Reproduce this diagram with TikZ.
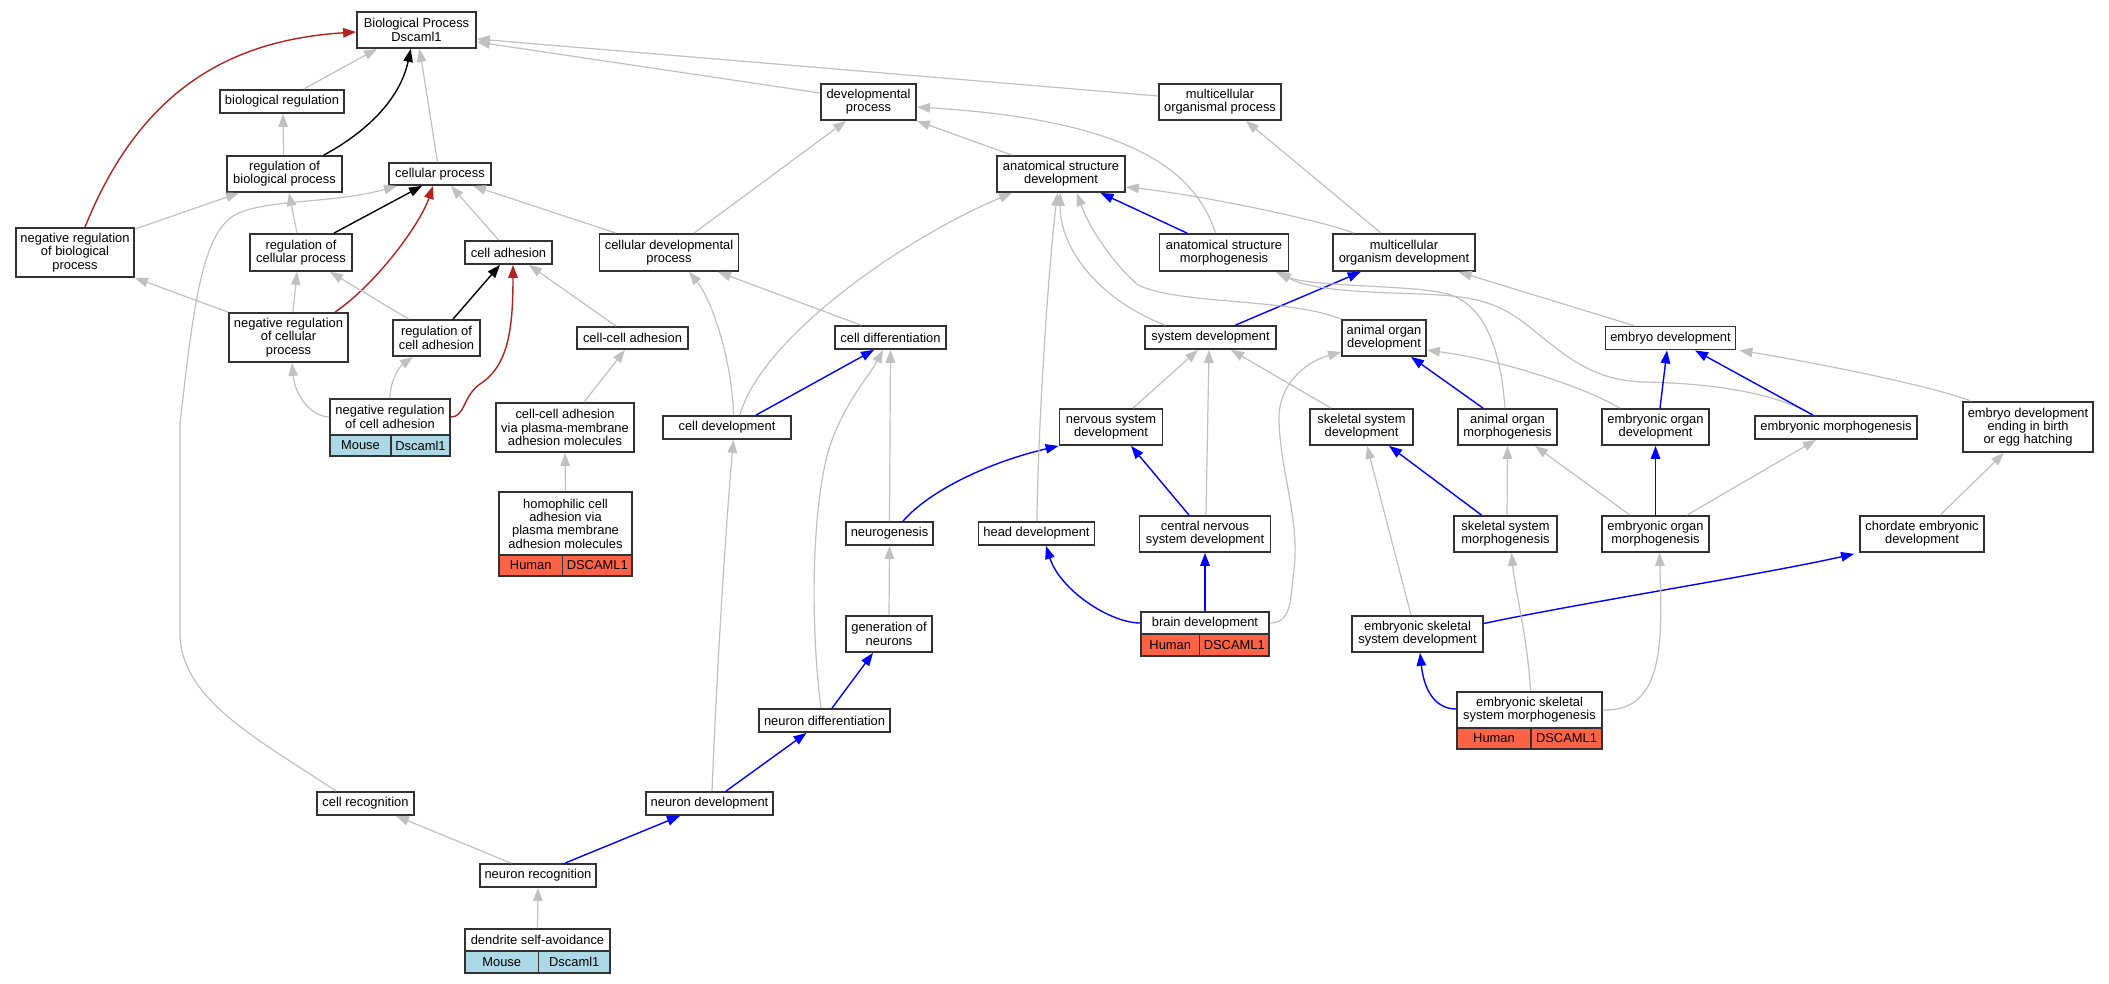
\documentclass[tikz,border=0pt]{standalone}
\usepackage{fontspec}
\setmainfont{Liberation Sans}
\usetikzlibrary{arrows.meta,calc}
\definecolor{eg}{RGB}{192,192,192}
\definecolor{eb}{RGB}{0,0,255}
\definecolor{er}{RGB}{178,34,34}
\definecolor{bord}{RGB}{50,50,50}
\definecolor{mouse}{RGB}{173,216,230}
\definecolor{human}{RGB}{255,99,71}
\begin{document}
\begin{tikzpicture}[x=1pt,y=-1pt,
  box/.style={draw=bord,line width=1.8pt,fill=white,inner sep=0pt,align=center,
    font=\fontsize{12.9pt}{13.3pt}\selectfont},
  mousebox/.style={box,fill=mouse},
  humanbox/.style={box,fill=human},
  tip/.style={-{Triangle[length=13pt,width=9.5pt]}},
  ga/.style={tip,draw=eg,line width=1.2pt},
  ba/.style={tip,draw=eb,line width=1.4pt},
  ra/.style={tip,draw=er,line width=1.4pt},
  ka/.style={tip,draw=black,line width=1.4pt}]
\useasboundingbox (0,0) rectangle (2109,984);

% ---------- nodes ----------
\node[box,minimum width=119pt,minimum height=36pt] (bp) at (416.5,30) {Biological Process\\Dscaml1};
\node[box,minimum width=124pt,minimum height=23pt] (breg) at (282,101.5) {biological regulation};
\node[box,minimum width=115pt,minimum height=36pt] (rbp) at (284.5,174) {regulation of\\biological process};
\node[box,minimum width=102pt,minimum height=22pt] (cp) at (440,174) {cellular process};
\node[box,minimum width=118pt,minimum height=49pt] (nrbp) at (75,252.5) {negative regulation\\of biological\\process};
\node[box,minimum width=102pt,minimum height=37pt] (rcp) at (301,252.5) {regulation of\\cellular process};
\node[box,minimum width=87pt,minimum height=23pt] (ca) at (508.5,252.5) {cell adhesion};
\node[box,minimum width=139pt,minimum height=37pt] (cdp) at (669,252.5) {cellular developmental\\process};
\node[box,minimum width=95pt,minimum height=36pt] (dp) at (868.5,102) {developmental\\process};
\node[box,minimum width=122pt,minimum height=36pt] (mop) at (1220,102) {multicellular\\organismal process};
\node[box,minimum width=128pt,minimum height=36pt] (asd) at (1061,174) {anatomical structure\\development};
\node[box,minimum width=129pt,minimum height=37pt] (asm) at (1224,252.5) {anatomical structure\\morphogenesis};
\node[box,minimum width=142pt,minimum height=37pt] (mod) at (1404,252.5) {multicellular\\organism development};
\node[box,minimum width=119pt,minimum height=49pt] (nrcp) at (288.5,337.5) {negative regulation\\of cellular\\process};
\node[box,minimum width=87pt,minimum height=36pt] (rca) at (436.5,338) {regulation of\\cell adhesion};
\node[box,minimum width=111pt,minimum height=22pt] (cca) at (632.5,338) {cell-cell adhesion};
\node[box,minimum width=111pt,minimum height=23pt] (cdiff) at (890.5,337.5) {cell differentiation};
\node[box,minimum width=131pt,minimum height=23pt] (sd) at (1210.5,337.5) {system development};
\node[box,minimum width=84pt,minimum height=36pt] (aod) at (1384,338) {animal organ\\development};
\node[box,minimum width=130pt,minimum height=23pt] (ed) at (1670.5,338) {embryo development};
\node[box,minimum width=120pt,minimum height=36pt] (nrca) at (390,417) {negative regulation\\of cell adhesion};
\node[mousebox,minimum width=61pt,minimum height=21pt] (nrcaA) at (360.5,445.5) {Mouse};
\node[mousebox,minimum width=59pt,minimum height=21pt] (nrcaB) at (420.5,445.5) {Dscaml1};
\node[box,minimum width=138pt,minimum height=49pt] (ccapm) at (565,427.5) {cell-cell adhesion\\via plasma-membrane\\adhesion molecules};
\node[box,minimum width=128pt,minimum height=23pt] (cdev) at (727,427.5) {cell development};
\node[box,minimum width=103pt,minimum height=36pt] (nsd) at (1111,427) {nervous system\\development};
\node[box,minimum width=103pt,minimum height=36pt] (ssd) at (1361.5,427) {skeletal system\\development};
\node[box,minimum width=99pt,minimum height=36pt] (aom) at (1507.5,427) {animal organ\\morphogenesis};
\node[box,minimum width=107pt,minimum height=36pt] (eod) at (1655.5,427) {embryonic organ\\development};
\node[box,minimum width=162pt,minimum height=23pt] (em) at (1836,427.5) {embryonic morphogenesis};
\node[box,minimum width=130pt,minimum height=50pt] (edeb) at (2028,427) {embryo development\\ending in birth\\or egg hatching};
\node[box,minimum width=133pt,minimum height=63pt] (hom) at (565.5,523.5) {homophilic cell\\adhesion via\\plasma membrane\\adhesion molecules};
\node[humanbox,minimum width=63.5pt,minimum height=21pt] (homA) at (530.75,565.5) {Human};
\node[humanbox,minimum width=69.5pt,minimum height=21pt] (homB) at (597.25,565.5) {DSCAML1};
\node[box,minimum width=87pt,minimum height=23pt] (ng) at (889.5,533.5) {neurogenesis};
\node[box,minimum width=116pt,minimum height=23pt] (hd) at (1036.5,533.5) {head development};
\node[box,minimum width=131pt,minimum height=36pt] (cnsd) at (1205,534) {central nervous\\system development};
\node[box,minimum width=103pt,minimum height=36pt] (ssm) at (1505.5,534) {skeletal system\\morphogenesis};
\node[box,minimum width=107pt,minimum height=36pt] (eom) at (1655.5,534) {embryonic organ\\morphogenesis};
\node[box,minimum width=124pt,minimum height=36pt] (ced) at (1922,534) {chordate embryonic\\development};
\node[box,minimum width=86pt,minimum height=36pt] (gn) at (889,634) {generation of\\neurons};
\node[box,minimum width=128pt,minimum height=22pt] (bd) at (1205,623) {brain development};
\node[humanbox,minimum width=58.5pt,minimum height=22pt] (bdA) at (1170.25,645) {Human};
\node[humanbox,minimum width=69.5pt,minimum height=22pt] (bdB) at (1234.25,645) {DSCAML1};
\node[box,minimum width=131pt,minimum height=36pt] (essd) at (1417.5,634) {embryonic skeletal\\system development};
\node[box,minimum width=131pt,minimum height=23pt] (nd) at (824.5,720.5) {neuron differentiation};
\node[box,minimum width=145pt,minimum height=36pt] (essm) at (1529.5,710) {embryonic skeletal\\system morphogenesis};
\node[humanbox,minimum width=74pt,minimum height=21pt] (essmA) at (1494,738.5) {Human};
\node[humanbox,minimum width=71pt,minimum height=21pt] (essmB) at (1566.5,738.5) {DSCAML1};
\node[box,minimum width=97pt,minimum height=23pt] (cr) at (365.5,803.5) {cell recognition};
\node[box,minimum width=127pt,minimum height=23pt] (ndev) at (709.5,803.5) {neuron development};
\node[box,minimum width=116pt,minimum height=23pt] (nr) at (538,875.5) {neuron recognition};
\node[box,minimum width=145pt,minimum height=22pt] (dsa) at (537.5,940) {dendrite self-avoidance};
\node[mousebox,minimum width=73.5pt,minimum height=22pt] (dsaA) at (501.75,962) {Mouse};
\node[mousebox,minimum width=71.5pt,minimum height=22pt] (dsaB) at (574.25,962) {Dscaml1};

% ---------- edges ----------
\draw[ga] ($(breg.north)+(21.6,0)$) -- ($(bp.south)+(-39.5,0)$);
\draw[ga] ($(rbp.north)+(-1,0)$) -- ($(breg.south)+(1,0)$);
\draw[ka] ($(rbp.north)+(39.2,0)$) .. controls (365,133) and (400,100) .. ($(bp.south)+(-5.8,0)$);
\draw[ga] ($(cp.north)+(-2.5,0)$) -- ($(bp.south)+(3.1,0)$);
\draw[ra] ($(nrbp.north)+(10,0)$) .. controls (140,90) and (230,40) .. ($(bp.west)+(0,2)$);
\draw[ga] ($(nrbp.north east)+(0,2)$) -- ($(rbp.south)+(-45.5,0)$);
\draw[ga] ($(rcp.north)+(-4,0)$) -- ($(rbp.south)+(4.5,0)$);
\draw[ka] ($(rcp.north)+(33,0)$) -- ($(cp.south)+(-18,0)$);
\draw[ra] ($(nrcp.north)+(46.5,0)$) .. controls (375,285) and (420,225) .. ($(cp.south)+(-7,0)$);
\draw[ga] ($(ca.north)+(-9.8,0)$) -- ($(cp.south)+(11,0)$);
\draw[ga] ($(cdp.north)+(-53,0)$) -- ($(cp.south)+(33,0)$);
\draw[ga] ($(cr.north)+(-29.5,0)$) .. controls (260,740) and (180,700) .. (180,633) -- (180,423)
   .. controls (192,320) and (200,245) .. (228,220) .. controls (250,198) and (330,205) .. ($(cp.south)+(-43,0)$);
\draw[ga] (nrcp.north west) -- (nrbp.south east);
\draw[ga] ($(nrcp.north)+(4.5,0)$) -- ($(rcp.south)+(-4,0)$);
\draw[ga] ($(rca.north)+(-28,0)$) -- ($(rcp.south)+(29,0)$);
\draw[ka] ($(rca.north)+(16.5,0)$) -- ($(ca.south)+(-8.5,0)$);
\draw[ra] (nrca.east) .. controls (465,417) and (463,396) .. (480,384) .. controls (508,366) and (513,330) .. ($(ca.south)+(4.5,0)$);
\draw[ga] (nrca.north) .. controls (390,380) and (400,366) .. ($(rca.south)+(-23.5,0)$);
\draw[ga] (nrca.west) .. controls (310,416) and (295,395) .. ($(nrcp.south)+(3.5,0)$);
\draw[ga] ($(cca.north)+(-16.5,0)$) -- ($(ca.south)+(20.5,0)$);
\draw[ga] ($(ccapm.north)+(19,0)$) -- ($(cca.south)+(-7.5,0)$);
\draw[ga] (hom.north) -- (ccapm.south);
\draw[ga] ($(nr.north)+(-27,0)$) -- ($(cr.south)+(30.5,0)$);
\draw[ba] ($(nr.north)+(27,0)$) -- ($(ndev.south)+(-29.5,0)$);
\draw[ga] (dsa.north) -- (nr.south);
\draw[ba] ($(ndev.north)+(16.5,0)$) -- ($(nd.south)+(-18,0)$);
\draw[ga] ($(ndev.north)+(2.5,0)$) .. controls (718,640) and (728,500) .. ($(cdev.south)+(6.5,0)$);
\draw[ba] ($(nd.north)+(7.5,0)$) -- ($(gn.south)+(-16,0)$);
\draw[ga] ($(nd.north)+(-3.5,0)$) .. controls (812,640) and (810,530) .. (826,460) .. controls (838,410) and (870,375) .. ($(cdiff.south)+(-7.5,0)$);
\draw[ga] (gn.north) -- (ng.south);
\draw[ga] (ng.north) -- (cdiff.south);
\draw[ba] ($(ng.north)+(13.5,0)$) .. controls (930,490) and (990,462) .. (nsd.south west);
\draw[ba] ($(cdev.north)+(29,0)$) -- ($(cdiff.south)+(-16.5,0)$);
\draw[ga] ($(cdev.north)+(6.5,0)$) .. controls (732,360) and (712,300) .. ($(cdp.south)+(20,0)$);
\draw[ga] ($(cdev.north)+(13,0)$) .. controls (760,340) and (900,240) .. ($(asd.south)+(-49,0)$);
\draw[ga] ($(cdp.north)+(25,0)$) -- ($(dp.south)+(-22.5,0)$);
\draw[ga] ($(cdiff.north)+(-29.5,0)$) -- ($(cdp.south)+(49,0)$);
\draw[ga] ($(dp.west)+(0,-9)$) -- ($(bp.east)+(0,12)$);
\draw[ga] ($(mop.west)+(0,-6)$) -- ($(bp.east)+(0,9)$);
\draw[ga] ($(asd.north)+(-49,0)$) -- (dp.south east);
\draw[ga] ($(asm.north)+(-8.5,0)$) .. controls (1195,170) and (1130,120) .. ($(dp.east)+(0,5)$);
\draw[ba] ($(asm.north)+(-37,0)$) -- ($(asd.south)+(39.5,0)$);
\draw[ga] ($(mod.north)+(-50,0)$) .. controls (1320,220) and (1200,195) .. ($(asd.east)+(0,13)$);
\draw[ga] ($(mod.north)+(-23,0)$) -- ($(mop.south)+(26,0)$);
\draw[ba] ($(sd.north)+(25,0)$) -- ($(mod.south)+(-43.3,0)$);
\draw[ga] ($(sd.north)+(-45.5,0)$) .. controls (1100,300) and (1060,250) .. ($(asd.south)+(-1,0)$);
\draw[ga] (aod.north west) .. controls (1290,298) and (1180,305) .. (1138,285) .. controls (1120,270) and (1092,235) .. ($(asd.south)+(15.7,0)$);
\draw[ga] ($(hd.north)+(0.4,0)$) .. controls (1038,430) and (1048,270) .. ($(asd.south)+(-3.4,0)$);
\draw[ba] (bd.west) .. controls (1110,623) and (1060,590) .. ($(hd.south)+(9.5,0)$);
\draw[ba] (bd.north) -- (cnsd.south);
\draw[ga] (bd.east) .. controls (1292,623) and (1290,600) .. (1294,570) .. controls (1300,520) and (1280,470) .. (1279,420) .. controls (1278,385) and (1305,362) .. ($(aod.west)+(0,14)$);
\draw[ba] ($(cnsd.north)+(-16,0)$) -- ($(nsd.south)+(20,0)$);
\draw[ga] ($(cnsd.north)+(1,0)$) -- ($(sd.south)+(-1.5,0)$);
\draw[ga] ($(nsd.north)+(22,0)$) -- ($(sd.south)+(-12.5,0)$);
\draw[ga] ($(ssd.north)+(-30.5,0)$) -- ($(sd.south)+(20.5,0)$);
\draw[ba] ($(aom.north)+(-24.5,0)$) -- ($(aod.south)+(27,0)$);
\draw[ga] ($(aom.north)+(-2.5,0)$) .. controls (1500,340) and (1480,300) .. (1443,293) .. controls (1410,285) and (1310,287) .. ($(asm.south)+(52,0)$);
\draw[ga] ($(em.north)+(-23,0)$) .. controls (1770,390) and (1700,383) .. (1643,382) .. controls (1590,380) and (1565,355) .. (1527,325) .. controls (1495,300) and (1470,296) .. (1420,294) .. controls (1360,292) and (1310,290) .. ($(asm.south)+(54,0)$);
\draw[ba] ($(em.north)+(-23,0)$) -- ($(ed.south)+(24.5,0)$);
\draw[ba] ($(eod.north)+(4.5,0)$) -- ($(ed.south)+(-3.5,0)$);
\draw[ga] ($(eod.north)+(-35.5,0)$) .. controls (1580,385) and (1500,360) .. ($(aod.east)+(0,12)$);
\draw[ga] ($(ed.north)+(-36.5,0)$) -- ($(mod.south)+(54.6,0)$);
\draw[ga] ($(edeb.north)+(-57,0)$) .. controls (1930,385) and (1800,360) .. ($(ed.south east)+(3,0)$);
\draw[ga] ($(ced.north)+(18,0)$) -- ($(edeb.south)+(-24,0)$);
\draw[ba] ($(essd.east)+(0,-10.5)$) .. controls (1580,603) and (1760,575) .. ($(ced.south west)+(-5,1)$);
\draw[ga] ($(essd.north)+(-6.5,0)$) -- ($(ssd.south)+(5.5,0)$);
\draw[ba] ($(ssm.north)+(-24,0)$) -- ($(ssd.south)+(27.5,0)$);
\draw[ga] ($(ssm.north)+(1.5,0)$) -- (aom.south);
\draw[ba] (eom.north) -- (eod.south);
\draw[ga] ($(eom.north)+(-25.5,0)$) -- ($(aom.south)+(27.5,0)$);
\draw[ga] ($(eom.north)+(31.5,0)$) -- ($(em.south)+(-20,0)$);
\draw[ba] ($(essm.west)+(0,-1)$) .. controls (1435,709) and (1424,690) .. ($(essd.south)+(2.5,0)$);
\draw[ga] ($(essm.north)+(1,0)$) .. controls (1528,640) and (1515,590) .. ($(ssm.south)+(6,0)$);
\draw[ga] (essm.east) .. controls (1665,712) and (1662,640) .. ($(eom.south)+(4,0)$);
\end{tikzpicture}
\end{document}
